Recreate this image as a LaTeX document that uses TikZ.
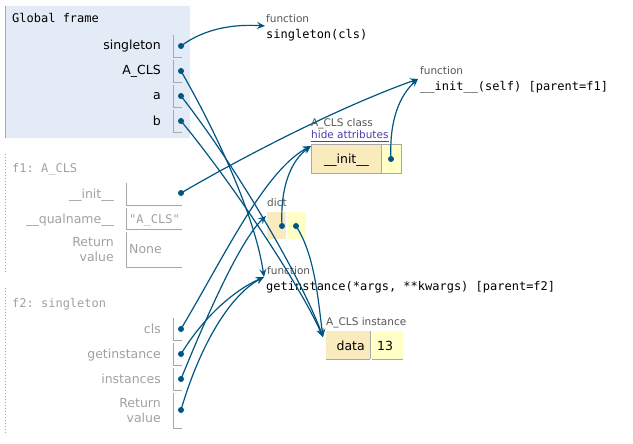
\documentclass[tikz,border=0pt]{standalone}
\usepackage{fontspec}
\setmainfont{DejaVu Sans}
\setmonofont{DejaVu Sans Mono}
\usetikzlibrary{arrows.meta}
\definecolor{arr}{HTML}{005583}
\definecolor{gframe}{HTML}{E2EBF6}
\definecolor{keybg}{HTML}{FAEBBF}
\definecolor{valbg}{HTML}{FFFFC6}
\definecolor{lgray}{HTML}{A0A0A0}
\definecolor{bgray}{HTML}{A8A8A8}
\definecolor{dgray}{HTML}{555555}
\definecolor{linkc}{HTML}{4B3CA8}
\tikzset{
  varname/.style={anchor=base east, inner sep=0pt, font=\fontsize{12.5}{14}\selectfont},
  gvar/.style={varname, text=black},
  fvar/.style={varname, text=lgray},
  ftitle/.style={anchor=base west, inner sep=0pt, font=\ttfamily\fontsize{12}{14}\selectfont},
  objlabel/.style={anchor=base west, inner sep=0pt, text=dgray, font=\fontsize{10.5}{12}\selectfont},
  objcode/.style={anchor=base west, inner sep=0pt, font=\ttfamily\fontsize{12}{14}\selectfont},
  cellline/.style={draw=bgray, line width=0.9pt},
  ptr/.style={circle, fill=arr, inner sep=0pt, minimum size=6pt},
  conn/.style={draw=arr, line width=1.2pt, -{Stealth[length=8pt,width=7pt,inset=3pt]}},
}
\begin{document}
\begin{tikzpicture}[x=1pt,y=-1pt]
\useasboundingbox (0,0) rectangle (633,444);

% ---------------- Global frame
\fill[gframe] (5,6) rectangle (190,138);
\draw[bgray, line width=1pt] (5,6) -- (5,138);
\node[ftitle] (gtitle) at (12,23) {Global frame};
\node[gvar] (lsing) at (161,50) {singleton};
\node[gvar] (lacls) at (161,75) {A\_CLS};
\node[gvar] (la) at (161,100) {a};
\node[gvar] (lb) at (161,125) {b};
\foreach \yt/\yb in {35/57, 60/82, 85/107, 110/132}{
  \draw[cellline] (173,\yt) -- (173,\yb) -- (182,\yb);
}
\node[ptr] (dsing) at (181,46) {};
\node[ptr] (dacls) at (181,71) {};
\node[ptr] (da) at (181,96) {};
\node[ptr] (db) at (181,121) {};

% ---------------- f1 frame
\draw[bgray, line width=1pt, dotted] (5.5,154) -- (5.5,273);
\node[ftitle, text=lgray] (f1title) at (12,172) {f1: A\_CLS};
\node[fvar] (linit) at (114,198) {\_\_init\_\_};
\node[fvar] (lqual) at (114,223) {\_\_qualname\_\_};
\node[fvar] (lret1a) at (114,246) {Return};
\node[fvar] (lret1b) at (114,261) {value};
\draw[cellline] (126,183) -- (126,205) -- (182,205);
\draw[cellline] (126,208) -- (126,229) -- (182,229);
\draw[cellline] (126,232) -- (126,267) -- (182,267);
\node[ptr] (dfinit) at (181,193) {};
\node[anchor=base west, inner sep=0pt, text=lgray, font=\ttfamily\fontsize{12}{14}\selectfont] (vqual) at (129,223) {"A\_CLS"};
\node[anchor=base west, inner sep=0pt, text=lgray, font=\fontsize{12.5}{14}\selectfont] (vnone) at (129,254) {None};

% ---------------- f2 frame
\draw[bgray, line width=1pt, dotted] (5.5,288) -- (5.5,435);
\node[ftitle, text=lgray] (f2title) at (12,307) {f2: singleton};
\node[fvar] (lcls) at (161,333) {cls};
\node[fvar] (lgi) at (161,358) {getinstance};
\node[fvar] (linst) at (161,383) {instances};
\node[fvar] (lret2a) at (161,407) {Return};
\node[fvar] (lret2b) at (161,422) {value};
\foreach \yt/\yb in {318/340, 343/365, 368/390, 393/428}{
  \draw[cellline] (173,\yt) -- (173,\yb) -- (182,\yb);
}
\node[ptr] (dcls) at (181,329) {};
\node[ptr] (dgi) at (181,354) {};
\node[ptr] (dinst) at (181,379) {};
\node[ptr] (dret) at (181,410) {};

% ---------------- heap: function singleton
\node[objlabel] (fn1lab) at (266,23) {function};
\node[objcode] (fn1) at (266,39) {singleton(cls)};
\coordinate (tfn1) at (265,26);

% ---------------- heap: function __init__
\node[objlabel] (fn2lab) at (420,75) {function};
\node[objcode] (fn2) at (420,91) {\_\_init\_\_(self) [parent=f1]};
\coordinate (tfn2) at (418,79);

% ---------------- heap: A_CLS class
\node[objlabel] (clslab) at (311,127) {A\_CLS class};
\node[anchor=base west, inner sep=0pt, text=linkc, font=\fontsize{10.5}{12}\selectfont] (hide) at (311,139) {hide attributes};
\draw[linkc, line width=0.7pt] (311,141.5) -- (hide.east |- 0,141.5);
\fill[keybg] (311.5,144.5) rectangle (381.5,173);
\fill[valbg] (381.5,144.5) rectangle (401.5,173);
\draw[bgray, line width=0.9pt] (311.5,144.5) rectangle (401.5,173);
\draw[bgray, line width=0.9pt] (381.5,144.5) -- (381.5,173);
\node[anchor=base, inner sep=0pt, font=\fontsize{12.5}{14}\selectfont] (clsinit) at (346.5,164) {\_\_init\_\_};
\node[ptr] (dclsinit) at (391,159) {};
\coordinate (tcls) at (311,146);

% ---------------- heap: dict
\node[objlabel] (dictlab) at (267,207) {dict};
\fill[keybg] (267,212) rectangle (286,239);
\fill[valbg] (287,212) rectangle (306,239);
\node[ptr] (dkey) at (282,226) {};
\node[ptr] (dval) at (296,226) {};
\coordinate (tdict) at (266,216);

% ---------------- heap: function getinstance
\node[objlabel] (fn3lab) at (267,274) {function};
\node[objcode] (fn3) at (266,290) {getinstance(*args, **kwargs) [parent=f2]};
\coordinate (tfn3) at (264,277);

% ---------------- heap: A_CLS instance
\node[objlabel] (instlab) at (326,325) {A\_CLS instance};
\fill[keybg] (326,331) rectangle (370,359);
\fill[valbg] (371.5,331) rectangle (403,359);
\draw[bgray, line width=0.9pt] (326,359) -- (370,359);
\draw[bgray, line width=0.9pt] (371.5,359) -- (403,359);
\draw[bgray, line width=0.9pt] (370.8,331) -- (370.8,359);
\node[anchor=base east, inner sep=0pt, font=\fontsize{12.5}{14}\selectfont] (kdata) at (365,350) {data};
\node[anchor=base west, inner sep=0pt, font=\fontsize{12.5}{14}\selectfont] (v13) at (377,350) {13};
\coordinate (tinst) at (323,337);

% ---------------- connectors
\draw[conn] (dsing.center) .. controls (205,28) and (235,24) .. (tfn1);
\draw[conn] (dacls.center) .. controls (215,130) and (255,215) .. (tfn3);
\draw[conn] (da.center) .. controls (235,165) and (300,275) .. (tinst);
\draw[conn] (db.center) .. controls (230,180) and (300,285) .. (tinst);
\draw[conn] (dfinit.center) .. controls (255,150) and (345,105) .. (tfn2);
\draw[conn] (dcls.center) .. controls (225,255) and (265,170) .. (tcls);
\draw[conn] (dgi.center) .. controls (205,315) and (235,290) .. (tfn3);
\draw[conn] (dinst.center) .. controls (205,320) and (240,240) .. (tdict);
\draw[conn] (dret.center) .. controls (200,345) and (230,295) .. (tfn3);
\draw[conn] (dkey.center) .. controls (280,185) and (292,160) .. (tcls);
\draw[conn] (dval.center) .. controls (315,255) and (318,300) .. (tinst);
\draw[conn] (dclsinit.center) .. controls (389,120) and (400,95) .. (tfn2);
\end{tikzpicture}
\end{document}
